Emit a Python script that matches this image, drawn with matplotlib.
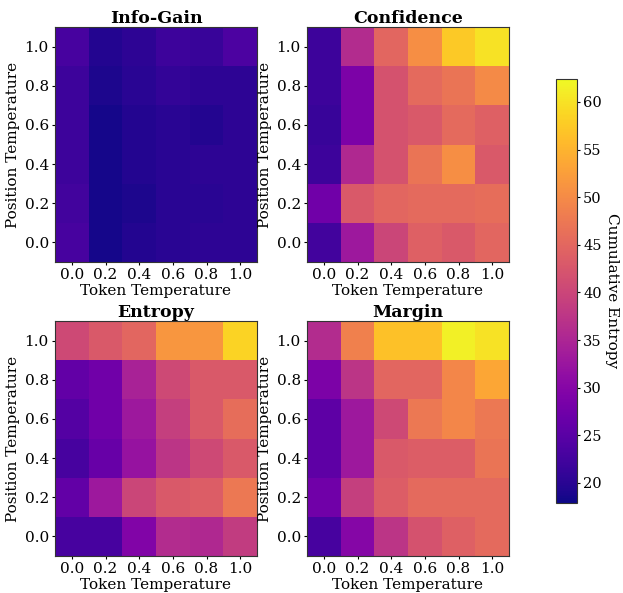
import numpy as np
import matplotlib
matplotlib.use('Agg')
import matplotlib.pyplot as plt

plt.rcParams['font.family'] = 'DejaVu Serif'

temps = [0.0, 0.2, 0.4, 0.6, 0.8, 1.0]
tick_labels = ['0.0', '0.2', '0.4', '0.6', '0.8', '1.0']

# rows: position temperature 0.0 -> 1.0, cols: token temperature 0.0 -> 1.0
info_gain = [
    [23.0, 18.5, 19.5, 20.0, 20.5, 20.5],
    [22.5, 18.5, 19.0, 20.0, 20.0, 20.5],
    [22.0, 18.5, 19.5, 20.0, 20.5, 20.5],
    [22.0, 18.5, 19.5, 20.0, 19.5, 20.5],
    [22.0, 19.0, 20.0, 21.0, 20.5, 20.5],
    [23.0, 19.5, 20.5, 22.0, 21.5, 23.5],
]
confidence = [
    [22.5, 33.0, 40.0, 44.0, 43.0, 45.0],
    [27.5, 43.0, 45.0, 45.5, 45.5, 46.0],
    [22.0, 35.5, 42.0, 47.0, 50.5, 43.0],
    [21.5, 29.0, 42.0, 43.0, 45.5, 44.0],
    [22.0, 29.0, 42.0, 45.5, 47.0, 50.0],
    [22.0, 36.0, 45.0, 50.5, 57.5, 60.0],
]
entropy = [
    [23.0, 23.0, 29.5, 36.0, 35.5, 38.5],
    [26.0, 33.0, 40.0, 43.0, 43.5, 47.5],
    [23.0, 26.5, 32.0, 37.5, 40.5, 43.0],
    [24.5, 27.5, 33.0, 39.0, 43.0, 46.0],
    [26.0, 27.5, 34.5, 40.5, 43.0, 43.0],
    [40.5, 43.0, 45.0, 51.5, 51.5, 58.5],
]
margin = [
    [23.0, 30.0, 37.5, 42.0, 44.0, 45.5],
    [27.5, 39.0, 43.5, 45.5, 45.5, 45.5],
    [25.5, 33.0, 43.0, 43.5, 43.5, 47.0],
    [25.5, 33.0, 40.5, 47.5, 49.5, 47.5],
    [29.0, 37.5, 45.0, 45.0, 49.5, 53.5],
    [36.0, 48.5, 56.5, 56.5, 61.5, 60.0],
]

titles = ['Info-Gain', 'Confidence', 'Entropy', 'Margin']
grids = [info_gain, confidence, entropy, margin]
vmin, vmax = 17.9, 62.4

W, H = 623, 593
fig = plt.figure(figsize=(W / 100, H / 100), dpi=100)

# axes boxes in pixels: left, top, right, bottom
boxes = [(55, 27, 257, 262), (307, 27, 509, 262),
         (55, 321, 257, 556), (307, 321, 509, 556)]

for box, title, grid in zip(boxes, titles, grids):
    l, t, r, b = box
    ax = fig.add_axes([l / W, 1 - b / H, (r - l) / W, (b - t) / H])
    im = ax.imshow(np.array(grid), cmap='plasma', vmin=vmin, vmax=vmax,
                   origin='lower', aspect='auto',
                   extent=[-0.1, 1.1, -0.1, 1.1])
    ax.set_xticks(temps)
    ax.set_xticklabels(tick_labels)
    ax.set_yticks(temps)
    ax.set_yticklabels(tick_labels)
    ax.tick_params(labelsize=11, length=2.5, pad=2)
    ax.set_xlabel('Token Temperature', fontsize=11, labelpad=1)
    ax.set_ylabel('Position Temperature', fontsize=11, labelpad=3)
    ax.set_title(title, fontsize=12.5, fontweight='bold', pad=3)
    for s in ax.spines.values():
        s.set_color('#333333')

cax = fig.add_axes([556 / W, 1 - 503 / H, 21 / W, (503 - 79) / H])
cb = fig.colorbar(im, cax=cax)
cb.set_ticks([20, 25, 30, 35, 40, 45, 50, 55, 60])
cb.ax.tick_params(labelsize=10.5, length=2.5, pad=2)
cb.outline.set_edgecolor('#333333')
cb.set_label('Cumulative Entropy', fontsize=11, rotation=270, labelpad=12)

fig.savefig('out.png', dpi=100)
